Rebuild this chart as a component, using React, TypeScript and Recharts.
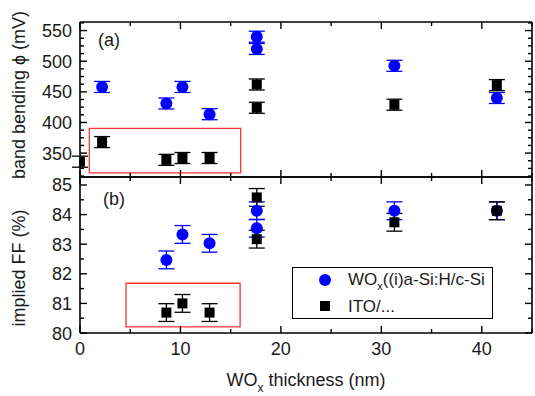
import React from "react";
import { ScatterChart, Scatter, XAxis, YAxis, ErrorBar, ReferenceArea } from "recharts";

// x positions (WOx thickness, nm)
const thkBbWOx = [2.2, 8.6, 10.2, 12.9, 17.6, 17.6, 31.3, 41.5];
const bbWOx = [458, 431, 458, 413.5, 540, 520, 492.5, 440];
const bbWOxErr = [9, 9, 9, 9, 9, 9, 9, 9];

const thkBbITO = [0, 2.2, 8.6, 10.2, 12.9, 17.6, 17.6, 31.3, 41.5];
const bbITO = [336, 368, 339, 342, 342, 462, 424, 429, 461];
const bbITOErr = [9, 9, 9, 9, 9, 9, 9, 9, 9];

const thkFF = [8.6, 10.2, 12.9, 17.6, 17.6, 31.3, 41.5];
const ffWOx = [82.47, 83.33, 83.03, 84.13, 83.54, 84.13, 84.13];
const ffWOxErr = [0.3, 0.3, 0.3, 0.3, 0.3, 0.3, 0.3];
const ffITO = [80.69, 81.0, 80.69, 84.58, 83.17, 83.74, 84.13];
const ffITOErr = [0.3, 0.3, 0.3, 0.3, 0.3, 0.3, 0.3];

const xTicks = [0, 5, 10, 15, 20, 25, 30, 35, 40, 45];
const bbTicks = [312.5, 325, 337.5, 350, 362.5, 375, 387.5, 400, 412.5, 425, 437.5, 450, 462.5, 475, 487.5, 500, 512.5, 525, 537.5, 550, 562.5];
const ffTicks = [80, 80.5, 81, 81.5, 82, 82.5, 83, 83.5, 84, 84.5, 85];

// highlighted regions (data coords)
const boxA = { x: [0.93, 16.0], y: [317.8, 390.4] };
const boxB = { x: [4.58, 15.94], y: [80.21, 81.68] };

const seriesNames = ["WOx((i)a-Si:H/c-Si", "ITO/..."];

const toPts = (xs: number[], ys: number[], es: number[]) =>
  xs.map((x, i) => ({ x, y: ys[i], err: es[i] }));

const BLUE = "#0000ff";
const BLACK = "#000000";
const TXT = "#1a1a1a";
const axisLine = { stroke: "#000", strokeWidth: 1.6 };

const tickRenderer =
  (dir: "right" | "left" | "up" | "down", major: number, label?: "left" | "below") =>
  (p: any) => {
    const v = p.payload.value;
    const isMajor = Math.abs(v / major - Math.round(v / major)) < 1e-6;
    const len = isMajor ? 7 : 4;
    const dx = dir === "right" ? len : dir === "left" ? -len : 0;
    const dy = dir === "down" ? len : dir === "up" ? -len : 0;
    return (
      <g>
        <line x1={p.x} y1={p.y} x2={p.x + dx} y2={p.y + dy} stroke="#000" strokeWidth={1.4} />
        {isMajor && label === "left" && (
          <text x={p.x - 8} y={p.y + 6.5} textAnchor="end" fontSize={18} fill={TXT}>
            {v}
          </text>
        )}
        {isMajor && label === "below" && (
          <text x={p.x} y={p.y + 22} textAnchor="middle" fontSize={18} fill={TXT}>
            {v}
          </text>
        )}
      </g>
    );
  };

const circleShape = (p: any) => <circle cx={p.cx} cy={p.cy} r={6} fill={BLUE} />;
const squareShape = (p: any) => <rect x={p.cx - 5} y={p.cy - 5} width={10} height={10} fill={BLACK} />;

const axisBase = {
  type: "number" as const,
  tickSize: 0,
  tickMargin: 0,
  tickLine: false,
  interval: 0 as const,
  axisLine,
  allowDataOverflow: true,
};

// blue series sits on bottom/left axes, black series on top/right axes (same domains)
function PanelA() {
  return (
    <ScatterChart width={535} height={178} margin={{ top: 21, right: 2, bottom: 0, left: 0 }}>
      <XAxis xAxisId="b" dataKey="x" domain={[0, 45]} ticks={xTicks} orientation="bottom" height={1}
        {...axisBase} tick={tickRenderer("up", 10)} />
      <XAxis xAxisId="t" dataKey="x" domain={[0, 45]} ticks={xTicks} orientation="top" height={1}
        {...axisBase} tick={tickRenderer("down", 10)} />
      <YAxis yAxisId="l" dataKey="y" domain={[311, 564]} ticks={bbTicks} width={80}
        {...axisBase} tick={tickRenderer("right", 50, "left")}
        label={{
          content: () => (
            <text transform="translate(25,95) rotate(-90)" textAnchor="middle" fontSize={18} fill={TXT}>
              band bending ϕ (mV)
            </text>
          ),
        }} />
      <YAxis yAxisId="r" dataKey="y" domain={[311, 564]} ticks={bbTicks} orientation="right" width={1}
        {...axisBase} tick={tickRenderer("left", 50)} />
      <ReferenceArea xAxisId="b" yAxisId="l" x1={boxA.x[0]} x2={boxA.x[1]} y1={boxA.y[0]} y2={boxA.y[1]}
        fill="none" stroke="#ff3333" strokeWidth={1.3} />
      <Scatter xAxisId="b" yAxisId="l" name={seriesNames[0]} data={toPts(thkBbWOx, bbWOx, bbWOxErr)} fill={BLUE}
        shape={circleShape} isAnimationActive={false}>
        <ErrorBar dataKey="err" direction="y" width={8} stroke={BLUE} strokeWidth={1.3} />
      </Scatter>
      <Scatter xAxisId="t" yAxisId="r" name={seriesNames[1]} data={toPts(thkBbITO, bbITO, bbITOErr)} fill={BLACK}
        shape={squareShape} isAnimationActive={false}>
        <ErrorBar dataKey="err" direction="y" width={8} stroke={BLACK} strokeWidth={1.3} />
      </Scatter>
    </ScatterChart>
  );
}

function PanelB() {
  return (
    <ScatterChart width={535} height={226} margin={{ top: 6, right: 2, bottom: 0, left: 0 }}>
      <XAxis xAxisId="b" dataKey="x" domain={[0, 45]} ticks={xTicks} orientation="bottom" height={63}
        {...axisBase} tick={tickRenderer("up", 10, "below")}
        label={{
          content: (lp: any) => {
            const vb = lp.viewBox || { x: 80, y: 163, width: 452 };
            return (
              <text x={vb.x + vb.width / 2} y={vb.y + 53} textAnchor="middle" fontSize={18} fill={TXT}>
                WO
                <tspan fontSize={12} dy={6}>x</tspan>
                <tspan dy={-6}> thickness (nm)</tspan>
              </text>
            );
          },
        }} />
      <XAxis xAxisId="t" dataKey="x" domain={[0, 45]} ticks={xTicks} orientation="top" height={1}
        {...axisBase} tick={tickRenderer("down", 10)} />
      <YAxis yAxisId="l" dataKey="y" domain={[80, 85.27]} ticks={ffTicks} width={80}
        {...axisBase} tick={tickRenderer("right", 1, "left")}
        label={{
          content: () => (
            <text transform="translate(25,98) rotate(-90)" textAnchor="middle" fontSize={18} fill={TXT}>
              implied FF (%)
            </text>
          ),
        }} />
      <YAxis yAxisId="r" dataKey="y" domain={[80, 85.27]} ticks={ffTicks} orientation="right" width={1}
        {...axisBase} tick={tickRenderer("left", 1)} />
      <ReferenceArea xAxisId="b" yAxisId="l" x1={boxB.x[0]} x2={boxB.x[1]} y1={boxB.y[0]} y2={boxB.y[1]}
        fill="none" stroke="#ff3333" strokeWidth={1.3} />
      <Scatter xAxisId="b" yAxisId="l" name={seriesNames[0]} data={toPts(thkFF, ffWOx, ffWOxErr)} fill={BLUE}
        shape={circleShape} isAnimationActive={false}>
        <ErrorBar dataKey="err" direction="y" width={8} stroke={BLUE} strokeWidth={1.3} />
      </Scatter>
      <Scatter xAxisId="t" yAxisId="r" name={seriesNames[1]} data={toPts(thkFF, ffITO, ffITOErr)} fill={BLACK}
        shape={squareShape} isAnimationActive={false}>
        <ErrorBar dataKey="err" direction="y" width={8} stroke={BLACK} strokeWidth={1.3} />
      </Scatter>
    </ScatterChart>
  );
}

function LegendBox() {
  return (
    <div style={{ position: "absolute", left: 292, top: 267, width: 201, height: 52, background: "#fff",
      border: "1px solid #000", boxSizing: "border-box" }}>
      <svg width={199} height={50} style={{ position: "absolute", left: 0, top: 0 }}>
        <circle cx={32} cy={12} r={6} fill={BLUE} />
        <text x={55} y={17} fontSize={17} fill={TXT}>
          WO<tspan fontSize={11} dy={5}>x</tspan>
          <tspan dy={-5}>((i)a-Si:H/c-Si</tspan>
        </text>
        <rect x={27} y={33} width={10} height={10} fill={BLACK} />
        <text x={55} y={44} fontSize={17} fill={TXT}>{seriesNames[1]}</text>
      </svg>
    </div>
  );
}

export default function App() {
  return (
    <div style={{ position: "absolute", left: 0, top: 0, width: 535, height: 396, background: "#fff",
      fontFamily: "Arial, 'Liberation Sans', sans-serif" }}>
      <div style={{ position: "absolute", left: 0, top: 0 }}>
        <PanelA />
      </div>
      <div style={{ position: "absolute", left: 0, top: 170 }}>
        <PanelB />
      </div>
      <div style={{ position: "absolute", left: 98, top: 30, fontSize: 18, color: TXT }}>(a)</div>
      <div style={{ position: "absolute", left: 103, top: 189, fontSize: 18, color: TXT }}>(b)</div>
      <LegendBox />
    </div>
  );
}
